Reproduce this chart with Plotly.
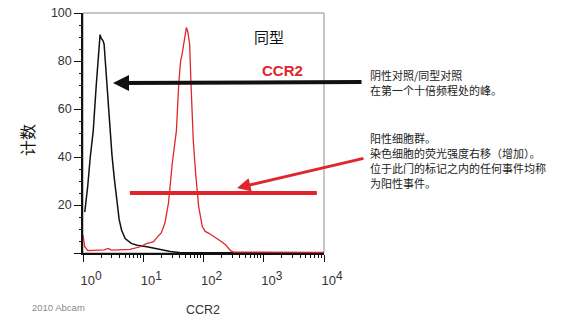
import plotly.graph_objects as go

# ---------------- data ----------------
iso_x = [1.07, 1.20, 1.32, 1.48, 1.66, 1.82, 1.92, 2.00, 2.14, 2.24, 2.51, 2.75, 3.02,
         3.31, 3.63, 3.98, 4.37, 5.01, 6.31, 7.94, 11.5, 17.8, 28.2, 39.8, 100, 1000, 10000]
iso_y = [17, 28, 40, 51, 70, 86, 91, 89.5, 88.5, 87, 68, 52, 41,
         31, 22, 14, 9.5, 6, 4, 3.2, 2.6, 1.5, 0.6, 0.2, 0.1, 0.1, 0.1]

ccr2_x = [1.0, 1.07, 1.20, 1.58, 2.24, 2.63, 2.95, 3.98, 6.03, 8.91, 11.5, 13.2, 14.8,
          17.0, 20.0, 22.9, 26.3, 30.2, 35.5, 38.9, 41.7, 44.2, 47.9, 52.1, 55.0, 58.9,
          61.7, 64.6, 67.6, 74.1, 83.2, 95.5, 107, 123, 145, 170, 200, 234, 282, 316,
          1000, 10000]
ccr2_y = [7.5, 2.6, 1.0, 1.2, 1.3, 1.9, 1.2, 1.3, 1.5, 2.6, 4.0, 4.3, 4.7,
          6.5, 8.5, 12.5, 21, 37, 51, 70.7, 80, 83, 88, 94, 92, 87,
          72, 60, 47, 33, 19.3, 11, 9, 8.2, 7.0, 6.1, 4.7, 3.3, 1.0, 0.4,
          0.3, 0.3]

gate_x = [6, 7600]
gate_y = [25, 25]

x_tickvals = [1, 10, 100, 1000, 10000]
x_tick_exponents = ["0", "1", "2", "3", "4"]
x_minor_digits = [2, 3, 4, 5, 6, 7, 8, 9]
y_tickvals = [0, 20, 40, 60, 80, 100]
y_ticktext = ["", "20", "40", "60", "80", "100"]
y_minor_step = 5

legend_iso = "同型"
legend_ccr2 = "CCR2"
y_title = "计数"
x_title = "CCR2"
credit = "2010 Abcam"
note1_lines = ["阴性对照/同型对照", "在第一个十倍频程处的峰。"]
note2_lines = ["阳性细胞群。", "染色细胞的荧光强度右移（增加）。", "位于此门的标记之内的任何事件均称", "为阳性事件。"]

# ---------------- layout helpers ----------------
W, H = 564, 322
L, R, T, B = 83, 324, 13, 253


def px(xp):
    return (xp - L) / (R - L)


def py(yp):
    return (B - yp) / (B - T)


RED = "#e0262b"
CJK = "Noto Sans CJK SC, Liberation Sans, Arial, sans-serif"
SANS = "Liberation Sans, Arial, sans-serif"


def label(text, xp, yp, size, color, family, xanchor="center", angle=0):
    return dict(text=text, x=px(xp), y=py(yp), xref="paper", yref="paper",
                xanchor=xanchor, yanchor="middle", showarrow=False, textangle=angle,
                font=dict(family=family, size=size, color=color))


x_ticktext = ["10<sup><span style='font-size:12px'>%s</span></sup>" % e for e in x_tick_exponents]
x_minor_vals = [d * t for t in x_tickvals[:-1] for d in x_minor_digits]
y_minor_vals = [v for v in range(0, 101, y_minor_step) if v not in y_tickvals]

fig = go.Figure()
fig.add_trace(go.Scatter(x=iso_x, y=iso_y, mode="lines",
                         line=dict(color="#111111", width=1.5), hoverinfo="skip"))
fig.add_trace(go.Scatter(x=ccr2_x, y=ccr2_y, mode="lines",
                         line=dict(color=RED, width=1.3), hoverinfo="skip"))
fig.add_trace(go.Scatter(x=gate_x, y=gate_y, mode="lines",
                         line=dict(color=RED, width=4), hoverinfo="skip"))

annotations = [
    label(legend_iso, 269, 36, 15, "#111111", CJK),
    label("<b>" + legend_ccr2 + "</b>", 282, 70.5, 15, RED, SANS),
    label(y_title, 27, 140, 16, "#111111", CJK, angle=-90),
    label(x_title, 203, 310, 12.5, "#333333", SANS),
    label(credit, 58, 307, 9.5, "#8a8a8a", SANS),
]
for i, t in enumerate(note1_lines):
    annotations.append(label(t, 368, 75 + 15 * i, 11, "#222222", CJK, xanchor="left"))
for i, t in enumerate(note2_lines):
    annotations.append(label(t, 368, 138 + 15 * i, 11, "#222222", CJK, xanchor="left"))

# arrows (tail offsets in pixels)
annotations.append(dict(x=px(113), y=py(83), xref="paper", yref="paper", text="",
                        showarrow=True, ax=363 - 113, ay=82 - 83, axref="pixel", ayref="pixel",
                        arrowhead=2, arrowsize=0.8, arrowwidth=4, arrowcolor="#111111"))
annotations.append(dict(x=px(237), y=py(188), xref="paper", yref="paper", text="",
                        showarrow=True, ax=365 - 237, ay=158 - 188, axref="pixel", ayref="pixel",
                        arrowhead=2, arrowsize=0.9, arrowwidth=3, arrowcolor=RED))

shapes = [dict(type="rect", xref="paper", yref="paper", x0=0, x1=1, y0=0, y1=1,
               line=dict(color="#8c8c8c", width=1), layer="below")]

fig.update_layout(
    width=W, height=H,
    margin=dict(l=L, r=W - R, t=T, b=H - B, autoexpand=False),
    paper_bgcolor="white", plot_bgcolor="white",
    showlegend=False,
    annotations=annotations,
    shapes=shapes,
    xaxis=dict(type="log", range=[0, 4], showgrid=False, zeroline=False,
               showline=True, linecolor="#111111", linewidth=1.5,
               tickmode="array", tickvals=x_tickvals, ticktext=x_ticktext,
               ticks="outside", ticklen=7, tickwidth=1.2, tickcolor="#111111",
               ticklabelstandoff=8, ticklabelshift=8,
               tickfont=dict(family=SANS, size=13, color="#333333")),
    yaxis=dict(range=[0, 100], showgrid=False, zeroline=False,
               showline=True, linecolor="#111111", linewidth=1.5,
               tickmode="array", tickvals=y_tickvals, ticktext=y_ticktext,
               ticks="outside", ticklen=7, tickwidth=1.2, tickcolor="#111111",
               tickfont=dict(family=SANS, size=12.5, color="#333333")),
    # overlay axes carrying only the minor tick marks
    xaxis2=dict(type="log", range=[0, 4], overlaying="x", anchor="y", side="bottom",
                showgrid=False, zeroline=False, showline=False, showticklabels=False,
                tickmode="array", tickvals=x_minor_vals, ticks="outside",
                ticklen=3.5, tickwidth=1, tickcolor="#111111"),
    yaxis2=dict(range=[0, 100], overlaying="y", anchor="x", side="left",
                showgrid=False, zeroline=False, showline=False, showticklabels=False,
                tickmode="array", tickvals=y_minor_vals, ticks="outside",
                ticklen=3.5, tickwidth=1, tickcolor="#111111"),
)
# invisible trace so that the overlay axes are drawn
fig.add_trace(go.Scatter(x=gate_x, y=gate_y, xaxis="x2", yaxis="y2", mode="lines",
                         line=dict(width=0), opacity=0, hoverinfo="skip", showlegend=False))

fig.write_html("out.html")
